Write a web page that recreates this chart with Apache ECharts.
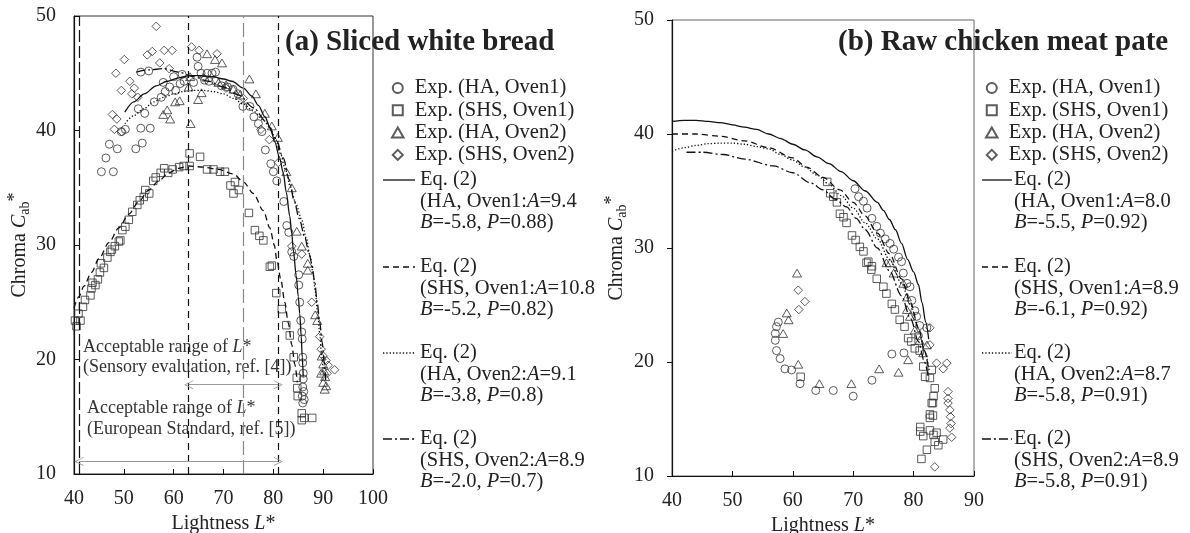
<!DOCTYPE html>
<html><head><meta charset="utf-8">
<script src="https://cdn.jsdelivr.net/npm/echarts/dist/echarts.min.js"></script>
<style>html,body{margin:0;padding:0;background:#fff}#c{width:1190px;height:533px}</style>
</head><body><div id="c"></div>
<script>
// ---------- Panel (a) Sliced white bread ----------
const xTicksA = [40, 50, 60, 70, 80, 90, 100];
const yTicks = [10, 20, 30, 40, 50];
const xTicksB = [40, 50, 60, 70, 80, 90];

const haOven1A = [[45.5,36.4],[47.9,36.4],[46.4,37.6],[47.1,38.8],[48.7,38.4],[52.4,38.4],[53.7,38.9],[49.5,39.9],[50.3,40.1],[53.4,40.2],[55.3,40.2],[52.9,41.9],[54.2,41.5],[56.1,42.5],[57.5,42.9],[58.3,43.4],[59.2,43.8],[60.4,43.5],[61.3,44.1],[62.1,44.3],[53.4,45.1],[55.0,45.2],[57.9,44.2],[60.0,44.7],[61.7,44.9],[64.0,44.2],[64.7,46.4],[64.9,45.6],[65.5,45.0],[66.7,45.0],[67.7,45.0],[68.4,45.1],[66.2,44.4],[67.1,44.3],[68.4,44.3],[69.6,43.9],[70.8,43.8],[71.9,43.6],[72.9,43.2],[73.9,42.1],[75.3,42.1],[76.1,41.2],[77.0,40.6],[77.7,39.9],[78.4,38.3],[79.5,37.1],[80.0,36.4],[80.7,35.6],[82.1,33.8],[82.7,31.7],[83.1,31.1],[83.7,29.4],[84.1,29.0],[85.1,27.4],[85.1,26.5],[85.3,25.0],[85.5,23.4],[85.7,22.4],[85.8,21.8],[85.9,20.2],[85.9,19.7],[86.0,18.8],[86.0,18.3],[85.9,17.6],[86.1,17.2],[85.8,16.8],[86.2,16.5],[85.9,16.2]];
const shsOven1A = [[40.2,23.4],[40.5,22.9],[41.3,23.4],[40.9,24.0],[41.8,24.6],[42.2,25.2],[43.3,25.6],[43.5,26.2],[43.7,26.7],[44.3,26.5],[44.8,27.0],[45.2,27.6],[45.4,28.4],[46.0,28.0],[46.7,28.9],[47.3,29.4],[47.6,29.6],[48.2,29.9],[49.0,30.3],[49.3,30.4],[49.7,31.3],[50.3,31.6],[51.0,32.2],[51.7,32.9],[52.7,33.5],[53.2,33.9],[54.0,34.2],[54.3,34.8],[55.1,34.5],[55.9,35.6],[56.4,35.9],[57.4,36.3],[58.1,36.7],[58.9,36.3],[59.8,36.6],[61.1,36.8],[62.0,36.9],[63.2,38.0],[65.3,37.7],[63.2,36.9],[66.7,36.6],[68.0,36.6],[69.3,36.4],[70.3,36.4],[71.4,35.2],[72.3,35.5],[73.1,34.8],[72.0,34.5],[75.1,32.8],[76.3,31.3],[77.2,30.8],[78.0,30.4],[79.3,28.1],[79.7,28.2],[80.6,25.8],[81.7,24.4],[82.6,23.0],[83.3,22.1],[84.1,20.2],[84.7,18.4],[84.8,17.5],[84.9,16.8],[85.7,15.3],[85.7,14.7],[86.2,14.9],[87.8,14.9]];
const haOven2A = [[63.4,40.6],[57.9,41.4],[59.3,41.0],[58.7,41.8],[60.3,42.5],[61.2,42.6],[63.0,43.8],[63.3,44.7],[64.9,42.7],[65.6,43.3],[66.7,46.7],[68.3,46.2],[69.7,45.9],[69.0,44.2],[70.5,44.0],[72.0,43.6],[73.3,43.1],[75.2,44.5],[76.5,43.2],[78.3,41.5],[79.7,40.4],[80.9,39.4],[82.6,36.4],[83.7,35.0],[84.7,31.2],[85.7,29.9],[86.9,28.4],[86.9,27.8],[88.4,23.9],[88.8,23.4],[89.7,20.3],[90.0,19.6],[90.2,19.0],[90.4,18.5],[90.0,18.0],[90.6,17.7],[90.3,17.4],[89.6,18.8]];
const shsOven2A = [[48.4,45.0],[49.5,43.5],[50.1,46.2],[51.2,44.3],[52.1,43.7],[51.6,43.2],[52.8,42.9],[54.7,46.6],[55.7,46.9],[56.5,49.1],[58.1,47.0],[59.7,47.0],[57.2,45.9],[59.1,45.4],[47.7,41.4],[48.6,41.0],[48.1,40.1],[49.6,39.9],[63.6,47.3],[65.1,47.0],[68.7,46.7],[66.0,44.6],[70.5,43.7],[74.0,42.8],[77.5,40.1],[79.2,39.2],[81.0,37.2],[83.7,29.9],[85.7,29.2],[87.7,25.0],[89.3,22.0],[89.6,20.9],[90.0,20.3],[91.0,19.5],[92.3,19.1],[90.6,19.9],[90.8,18.8]];

const fitHA1A = [[50.2,41.6],[52,42.5],[54.1,43.2],[56.5,43.9],[58.7,44.3],[61,44.6],[63.2,44.8],[65.5,44.8],[67.9,44.7],[70,44.5],[71.7,44.3],[74,43.7],[75.7,43.0],[77,42.2],[78.3,41.2],[79.4,40.2],[80.3,39.0],[81.2,37.7],[82,36.3],[82.6,34.6],[83.3,32.5],[83.7,31],[84,29.6],[84.6,27.3],[85,25.5],[85.3,24.0],[85.6,22.0],[85.8,20.2],[86,18.5]];
const fitSHS1A = [[40,24.5],[41,25.5],[42,26.4],[43.5,27.6],[45,28.8],[47,30.2],[49,31.5],[51,32.7],[53,33.8],[55,34.8],[57,35.6],[59,36.3],[61,36.7],[63,36.9],[66,36.8],[69,36.6],[72,36.2],[74,35.5],[76,34.5],[78,33.0],[79.3,31.5],[80.2,30.0],[80.7,28.7],[81.5,27.0],[82.3,25.0],[83,23.2],[83.7,21.3],[84.3,19.6],[84.8,18.0]];
const fitHA2A = [[50.2,40.6],[52,41.3],[54,41.9],[56,42.5],[58,42.9],[60,43.2],[62,43.4],[64,43.5],[66,43.5],[68,43.4],[70,43.2],[72,42.8],[74,42.3],[76,41.7],[78,40.9],[79.3,40.3],[80.5,39.2],[81.4,38.0],[82.5,36.5],[83.4,35.1],[84.6,33.5],[85.7,32.2],[86.6,30.6],[87.4,29.0],[88.0,27.4],[88.4,26.0],[88.9,24.0],[89.3,22.3],[89.7,20.4],[90.0,18.8]];
const fitSHS2A = [[52.5,45.1],[55,45.3],[58,45.4],[61,45.1],[64,44.7],[67,44.3],[70,43.8],[73,43.1],[76,42.0],[78.5,40.8],[80.5,39.3],[82,37.6],[83.2,35.7],[84.1,34.0],[85.2,32.3],[86.3,30.7],[87.2,29.2],[87.7,28.4],[88.3,26.8],[88.8,25.0],[89.3,23.3],[89.8,21.5],[90.2,19.8],[90.5,18.2]];

const refLinesA = [41, 63, 74, 81];
const sensoryRange = [63, 81, 17.8];
const euroRange = [41, 81, 11.1];

// ---------- Panel (b) Raw chicken meat pate ----------
const haOven1B = [[70.3,35.2],[70.9,34.5],[71.7,34.1],[72.3,33.5],[73.1,32.6],[73.9,31.9],[74.5,31.3],[75.3,30.8],[76.1,30.4],[76.7,29.9],[77.5,29.2],[78.0,28.8],[78.3,27.8],[78.9,26.9],[79.4,26.6],[79.7,25.4],[80.2,24.5],[80.5,24.0],[81.0,23.2],[82.2,23.0],[80.8,22.3],[57.6,23.5],[57.3,23.1],[57.1,22.5],[57.1,21.9],[57.3,21.0],[57.9,20.3],[58.7,19.4],[59.8,19.3],[61.2,18.1],[63.8,17.5],[66.7,17.5],[70.0,17.0],[73.1,18.4],[76.4,20.7],[78.4,20.8]];
const shsOven1B = [[65.7,35.8],[66.2,34.8],[66.7,34.5],[67.3,34.0],[67.8,33.0],[68.4,32.7],[68.9,32.2],[69.8,31.1],[70.4,30.7],[71.1,30.1],[71.7,29.7],[72.5,28.8],[73.1,28.4],[72.2,28.7],[73.0,28.1],[73.9,27.3],[75.0,26.6],[75.5,26.0],[76.4,25.1],[76.9,24.6],[77.7,23.7],[78.5,23.1],[79.1,22.1],[79.6,21.8],[80.2,21.2],[81.0,21.0],[81.6,19.6],[81.9,18.7],[82.7,18.6],[83.3,17.0],[83.0,16.4],[82.7,15.4],[82.7,15.1],[81.1,14.3],[81.1,13.9],[81.6,13.5],[82.7,14.0],[83.3,13.6],[82.2,12.3],[81.3,11.5],[83.5,13.0],[83.0,19.3],[83.5,17.7],[83.2,16.4],[83.2,15.3],[83.8,13.8],[84.9,13.2],[84.1,12.7],[61.3,18.7]];
const haOven2B = [[60.7,27.8],[59.0,24.3],[59.3,23.7],[58.4,22.5],[60.9,19.8],[64.4,18.1],[69.7,18.1],[74.3,19.4],[77.5,19.1],[79.1,20.2],[76.1,28.7],[75.5,28.7],[76.7,27.8],[78.3,26.9],[78.9,25.7],[78.9,24.6],[79.4,24.0],[80.2,22.8],[81.0,21.9],[81.6,20.8],[82.2,21.5]];
const shsOven2B = [[60.9,26.3],[62.0,25.3],[61.0,24.6],[83.8,19.9],[83.5,10.8],[82.7,23.0],[82.7,21.5],[84.9,19.4],[85.5,19.9],[85.7,17.4],[85.7,16.8],[85.7,16.4],[86.0,15.8],[86.1,15.2],[86.2,14.6],[86.0,14.2],[86.3,13.4]];

const fitHA1B = [[40,41.1],[42,41.2],[44,41.2],[46,41.1],[48,41.0],[50,40.8],[52,40.6],[54,40.4],[56,40.0],[58,39.6],[60,39.1],[62,38.6],[64,38.0],[66,37.4],[68,36.7],[70,35.9],[72,35.0],[74,34.0],[75,33.3],[76,32.5],[77,31.6],[78,30.4],[79,29.0],[80,27.9],[80.8,26.8],[81.4,25.2],[82,23.5],[82.5,22.0]];
const fitSHS1B = [[40,40.0],[44,40.0],[48,39.8],[52,39.4],[56,38.8],[60,37.9],[62.3,37.1],[65,36.2],[67.8,35.1],[70,34.0],[72,32.8],[74,31.3],[76,29.5],[78,27.3],[79.5,25.2],[80.8,23.0],[81.8,21.0],[82.5,19.3]];
const fitHA2B = [[40,38.5],[42,38.8],[44,39.0],[46,39.15],[48,39.2],[50,39.2],[52,39.1],[54,38.9],[56,38.7],[58,38.2],[60,37.7],[62,37.1],[64,36.4],[66,35.6],[68,34.6],[70,33.5],[72,32.2],[74,30.8],[76,29.0],[78,26.9],[79.5,25.0],[80.8,23.0],[81.8,21.0],[82.6,19.2]];
const fitSHS2B = [[42.4,38.4],[45,38.4],[48.5,38.2],[52,37.8],[56.8,37.2],[60,36.6],[63,35.7],[65,35.1],[67,34.3],[68.9,33.6],[70.5,32.6],[72,31.6],[74,30.0],[76,28.0],[78,25.8],[79.5,23.8],[80.8,21.8],[81.8,20.0],[82.5,18.5]];

const expNames = ['Exp. (HA, Oven1)', 'Exp. (SHS, Oven1)', 'Exp. (HA, Oven2)', 'Exp. (SHS, Oven2)'];
const eqParamsA = [['HA, Oven1','9.4','-5.8','0.88'],['SHS, Oven1','10.8','-5.2','0.82'],['HA, Oven2','9.1','-3.8','0.8'],['SHS, Oven2','8.9','-2.0','0.7']];
const eqParamsB = [['HA, Oven1','8.0','-5.5','0.92'],['SHS, Oven1','8.9','-6.1','0.92'],['HA, Oven2','8.7','-5.8','0.91'],['SHS, Oven2','8.9','-5.8','0.91']];

// ---------- styling ----------
const F = "'Liberation Serif','Times New Roman',serif";
const INK = '#222';
const SYM = {
  circle: 'circle',
  square: 'path://M0,0H10V10H0Z',
  triangle: 'path://M5,0L10,8.66L0,8.66Z',
  diamond: 'path://M5,0L10,5L5,10L0,5Z'
};
const SYMSIZE = [8, 7.5, 9, 8.5];
const symList = [SYM.circle, SYM.square, SYM.triangle, SYM.diamond];
const DASH = ['solid', [6, 4], [1.3, 2], [9, 3, 2, 3]];
const chevron = 'path://M0,10L5,0L10,10L9,10L5,2L1,10Z';
const TICKFS = 20, NAMEFS = 20, LEGFS = 20.5;

function scatter(name, data, k, gi) {
  return { type: 'scatter', name, data, xAxisIndex: gi, yAxisIndex: gi, symbol: symList[k], symbolSize: SYMSIZE[k], symbolKeepAspect: true,
    itemStyle: { color: 'rgba(0,0,0,0)', borderColor: '#333', borderWidth: 1 }, silent: true, z: 3 };
}
function fit(data, k, gi) {
  return { type: 'line', data, xAxisIndex: gi, yAxisIndex: gi, symbol: 'none', smooth: 0.3, smoothMonotone: 'x',
    lineStyle: { color: '#111', width: 1.3, type: DASH[k] }, silent: true, z: 4 };
}
const nameRich = {
  n: { fontFamily: F, fontSize: NAMEFS, color: INK },
  i: { fontFamily: F, fontSize: NAMEFS, color: INK, fontStyle: 'italic' },
  sub: { fontFamily: F, fontSize: 14, color: INK, padding: [10, 0, 0, 0] },
  sup: { fontFamily: F, fontSize: 18, color: INK, padding: [0, 0, 10, 0] }
};
function xAxis(gi, max, ticks, gap) {
  return { type: 'value', gridIndex: gi, min: 40, max, interval: 10,
    name: '{n|Lightness }{i|L}{n|*}', nameLocation: 'middle', nameGap: gap,
    nameTextStyle: { fontFamily: F, fontSize: NAMEFS, color: INK, rich: nameRich },
    axisLine: { show: true, onZero: false, lineStyle: { color: '#111', width: 1.2 } },
    axisTick: { show: true, inside: true, length: 5, lineStyle: { color: '#111' } },
    axisLabel: { margin: 15, fontFamily: F, fontSize: TICKFS, color: INK, formatter: v => ticks.includes(v) ? String(v) : '' },
    splitLine: { show: false } };
}
function yAxis(gi, inside, gap) {
  return { type: 'value', gridIndex: gi, min: 10, max: 50, interval: 10,
    name: '{n|Chroma }{i|C}{sub|ab}{sup|*}', nameLocation: 'middle', nameGap: gap, nameRotate: 90,
    nameTextStyle: { fontFamily: F, fontSize: NAMEFS, color: INK, rich: nameRich },
    axisLine: { show: true, onZero: false, lineStyle: { color: '#111', width: 1.2 } },
    axisTick: { show: true, inside, length: 5, lineStyle: { color: '#111' } },
    axisLabel: { margin: 18, fontFamily: F, fontSize: TICKFS, color: INK, formatter: v => yTicks.includes(v) ? String(v) : '' },
    splitLine: { show: false } };
}

const series = [
  scatter(expNames[0], haOven1A, 0, 0), scatter(expNames[1], shsOven1A, 1, 0),
  scatter(expNames[2], haOven2A, 2, 0), scatter(expNames[3], shsOven2A, 3, 0),
  fit(fitHA1A, 0, 0), fit(fitSHS1A, 1, 0), fit(fitHA2A, 2, 0), fit(fitSHS2A, 3, 0),
  scatter(expNames[0], haOven1B, 0, 1), scatter(expNames[1], shsOven1B, 1, 1),
  scatter(expNames[2], haOven2B, 2, 1), scatter(expNames[3], shsOven2B, 3, 1),
  fit(fitHA1B, 0, 1), fit(fitSHS1B, 1, 1), fit(fitHA2B, 2, 1), fit(fitSHS2B, 3, 1),
  { type: 'line', data: [], xAxisIndex: 0, yAxisIndex: 0, silent: true,
    markLine: { silent: true, symbol: ['none', 'none'], animation: false, label: { show: false },
      data: refLinesA.map((v, i) => ({ xAxis: v, lineStyle: i === 2 ? { color: '#888', width: 1.2, type: [14, 5] } : { color: '#111', width: 1.2, type: i === 0 ? [12, 4] : [7, 5] } })) } },
  { type: 'line', data: [], xAxisIndex: 0, yAxisIndex: 0, silent: true,
    markLine: { silent: true, symbol: [chevron, chevron], symbolSize: 9, animation: false, label: { show: false },
      lineStyle: { color: '#999', width: 1, type: 'solid' },
      data: [[{ coord: [sensoryRange[0], sensoryRange[2]] }, { coord: [sensoryRange[1], sensoryRange[2]] }],
             [{ coord: [euroRange[0], euroRange[2]] }, { coord: [euroRange[1], euroRange[2]] }]] } }
];

// legend-like graphics for equation entries & annotations
const graphic = [];
const eqY = [180, 267, 353, 439];
function eqBlock(params, lineX1, lineX2, textX) {
  params.forEach((p, k) => {
    const y = eqY[k];
    graphic.push({ type: 'line', silent: true, shape: { x1: lineX1, y1: y, x2: lineX2, y2: y },
      style: { stroke: '#111', lineWidth: 1.3, lineDash: k === 0 ? null : DASH[k] } });
    graphic.push({ type: 'text', silent: true, x: textX, y: y - 11,
      style: { text: 'Eq. (2)\n(' + p[0] + ':{i|A}=' + p[1] + '\n{i|B}=' + p[2] + ', {i|P}=' + p[3] + ')',
        fontFamily: F, fontSize: LEGFS, fill: INK, lineHeight: 21.5, verticalAlign: 'top',
        rich: { i: { fontFamily: F, fontSize: LEGFS, fontStyle: 'italic', lineHeight: 21.5, fill: INK } } } });
  });
}
eqBlock(eqParamsA, 383, 415, 420);
eqBlock(eqParamsB, 982, 1012, 1014);
const annot = [
  ['Acceptable range of {i|L}*', 83, 347], ['(Sensory evaluation, ref. [4])', 83, 367],
  ['Acceptable range of {i|L}*', 87, 408], ['(European Standard, ref. [5])', 87, 429]
];
annot.forEach(a => graphic.push({ type: 'text', silent: true, x: a[1], y: a[2],
  style: { text: a[0], fontFamily: F, fontSize: 18, fill: '#333', verticalAlign: 'middle',
    rich: { i: { fontFamily: F, fontSize: 18, fontStyle: 'italic', fill: '#333' } } } }));

function legend(left) {
  return { data: expNames, orient: 'vertical', left, top: 77, padding: 0, itemGap: 0.3,
    itemWidth: 24, itemHeight: 10, selectedMode: false,
    textStyle: { fontFamily: F, fontSize: LEGFS, color: INK, lineHeight: 22 } };
}

const option = {
  animation: false,
  backgroundColor: '#fff',
  title: [
    { text: '(a) Sliced white bread', left: 285, top: 28, padding: 0, textStyle: { fontFamily: F, fontSize: 29, fontWeight: 'bold', color: INK } },
    { text: '(b) Raw chicken meat pate', left: 838, top: 28, padding: 0, textStyle: { fontFamily: F, fontSize: 29, fontWeight: 'bold', color: INK } }
  ],
  legend: [legend(391), legend(985)],
  grid: [
    { left: 74, top: 16, width: 299, height: 458, show: true, borderColor: '#333', borderWidth: 1, backgroundColor: 'transparent', outerBoundsMode: 'none', containLabel: false },
    { left: 672, top: 20, width: 302, height: 456, show: true, borderColor: '#666', borderWidth: 1, backgroundColor: 'transparent', outerBoundsMode: 'none', containLabel: false }
  ],
  xAxis: [xAxis(0, 100, xTicksA, 33), xAxis(1, 90, xTicksB, 31)],
  yAxis: [yAxis(0, true, 38), yAxis(1, false, 41)],
  series,
  graphic
};
const chart = echarts.init(document.getElementById('c'), null, { renderer: 'canvas' });
chart.setOption(option);
</script>
</body></html>
